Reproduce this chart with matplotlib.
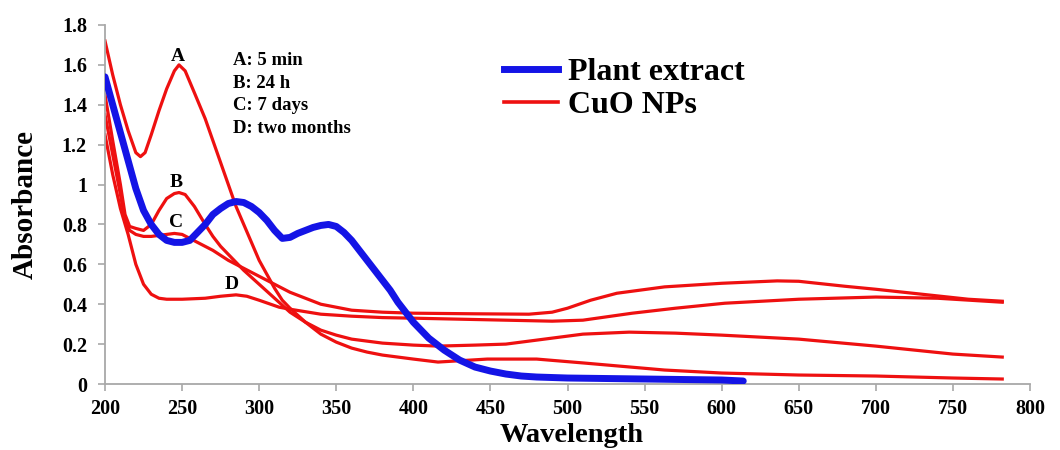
import matplotlib
matplotlib.use("Agg")
import matplotlib.pyplot as plt
from matplotlib.lines import Line2D

plt.rcParams["font.family"] = ["Liberation Serif", "DejaVu Serif"]
plt.rcParams["font.weight"] = "bold"

# UV-Vis absorbance of the plant extract
plant_wl = [200, 205, 210, 215, 220, 225, 230, 235, 240, 245, 250, 255, 260, 265,
            270, 275, 280, 285, 290, 295, 300, 305, 310, 315, 320, 325, 330, 335,
            340, 345, 350, 355, 360, 365, 370, 375, 380, 385, 390, 395, 400, 410,
            420, 430, 440, 450, 460, 470, 480, 500, 520, 550, 580, 600, 614]
plant_abs = [1.54, 1.40, 1.26, 1.12, 0.98, 0.87, 0.80, 0.75, 0.72, 0.71, 0.71, 0.72,
             0.76, 0.80, 0.85, 0.88, 0.905, 0.915, 0.91, 0.89, 0.86, 0.82, 0.77, 0.73,
             0.735, 0.755, 0.77, 0.785, 0.795, 0.80, 0.79, 0.76, 0.72, 0.67, 0.62,
             0.57, 0.52, 0.47, 0.41, 0.36, 0.31, 0.23, 0.17, 0.12, 0.085, 0.065,
             0.05, 0.04, 0.035, 0.03, 0.028, 0.025, 0.022, 0.02, 0.015]

# CuO NPs, A: 5 min
a_wl = [200, 205, 210, 215, 220, 223, 226, 230, 235, 240, 245, 248, 252, 258, 265,
        270, 275, 280, 285, 290, 295, 300, 305, 310, 315, 320, 330, 340, 350, 360,
        370, 380, 390, 400, 416, 448, 480, 511, 563, 600, 650, 700, 750, 782]
a_abs = [1.72, 1.55, 1.40, 1.27, 1.16, 1.14, 1.16, 1.25, 1.37, 1.48, 1.57, 1.60,
         1.57, 1.46, 1.33, 1.22, 1.11, 1.00, 0.89, 0.80, 0.71, 0.62, 0.55, 0.48,
         0.42, 0.38, 0.31, 0.25, 0.21, 0.18, 0.16, 0.145, 0.135, 0.125, 0.11,
         0.125, 0.125, 0.105, 0.07, 0.055, 0.045, 0.04, 0.03, 0.025]

# B: 24 h
b_wl = [200, 205, 210, 213, 216, 220, 225, 230, 235, 240, 245, 248, 252, 258, 265,
        270, 275, 280, 285, 290, 300, 310, 320, 330, 340, 350, 360, 380, 400, 416,
        440, 460, 480, 510, 540, 570, 600, 650, 700, 750, 782]
b_abs = [1.45, 1.22, 1.00, 0.85, 0.79, 0.78, 0.77, 0.80, 0.87, 0.93, 0.955, 0.96,
         0.95, 0.89, 0.80, 0.74, 0.69, 0.65, 0.61, 0.57, 0.50, 0.43, 0.36, 0.31,
         0.27, 0.245, 0.225, 0.205, 0.195, 0.19, 0.195, 0.20, 0.22, 0.25, 0.26,
         0.255, 0.245, 0.225, 0.19, 0.15, 0.135]

# C: 7 days
c_wl = [200, 205, 210, 213, 216, 220, 225, 230, 235, 240, 245, 250, 255, 260, 270,
        280, 290, 300, 310, 320, 330, 340, 350, 360, 380, 400, 440, 475, 490, 500,
        515, 532, 563, 600, 636, 650, 680, 700, 730, 760, 782]
c_abs = [1.35, 1.15, 0.95, 0.82, 0.77, 0.75, 0.74, 0.74, 0.745, 0.75, 0.755, 0.75,
         0.73, 0.71, 0.67, 0.62, 0.58, 0.54, 0.50, 0.46, 0.43, 0.40, 0.385, 0.37,
         0.36, 0.355, 0.352, 0.35, 0.36, 0.38, 0.42, 0.455, 0.487, 0.505, 0.517,
         0.515, 0.49, 0.475, 0.45, 0.425, 0.415]

# D: two months
d_wl = [200, 205, 210, 215, 220, 225, 230, 235, 240, 250, 265, 275, 285, 292, 300,
        313, 320, 340, 360, 380, 400, 430, 460, 490, 510, 542, 570, 602, 650, 700,
        740, 782]
d_abs = [1.25, 1.05, 0.88, 0.75, 0.60, 0.50, 0.45, 0.43, 0.425, 0.425, 0.43, 0.44,
         0.447, 0.44, 0.42, 0.385, 0.375, 0.35, 0.34, 0.333, 0.33, 0.325, 0.32,
         0.315, 0.32, 0.355, 0.38, 0.405, 0.425, 0.436, 0.43, 0.41]

curve_tags = ["A", "B", "C", "D"]
tag_pos = [(247, 1.64), (246, 1.01), (246, 0.81), (282, 0.50)]
time_notes = ["A: 5 min", "B: 24 h", "C: 7 days", "D: two months"]

x_ticks = [200, 250, 300, 350, 400, 450, 500, 550, 600, 650, 700, 750, 800]
y_ticks = [0, 0.2, 0.4, 0.6, 0.8, 1, 1.2, 1.4, 1.6, 1.8]
y_tick_labels = ["0", "0.2", "0.4", "0.6", "0.8", "1", "1.2", "1.4", "1.6", "1.8"]

RED = "#ee1010"
BLUE = "#1414e6"

fig = plt.figure(figsize=(10.6, 4.5), dpi=100)
ax = fig.add_axes([105 / 1060, 66 / 450, 925 / 1060, 359 / 450])

for wl, ab in [(a_wl, a_abs), (b_wl, b_abs), (c_wl, c_abs), (d_wl, d_abs)]:
    ax.plot(wl, ab, color=RED, lw=2.3, solid_joinstyle="round", zorder=2)
ax.plot(plant_wl, plant_abs, color=BLUE, lw=5.0, solid_capstyle="round",
        solid_joinstyle="round", zorder=3)

for tag, (tx, ty) in zip(curve_tags, tag_pos):
    ax.text(tx, ty, tag, fontsize=14, fontweight="bold", ha="center", va="center",
            zorder=4)

for i, note in enumerate(time_notes):
    ax.text(283, 1.62 - i * 0.113, note, fontsize=13.5, fontweight="bold",
            ha="left", va="center")

ax.set_xlim(200, 800)
ax.set_ylim(0, 1.8)
ax.set_xticks(x_ticks)
ax.set_yticks(y_ticks)
ax.set_yticklabels(y_tick_labels)

for side in ["top", "right"]:
    ax.spines[side].set_visible(False)
for side in ["left", "bottom"]:
    ax.spines[side].set_color("#a8a8a8")
    ax.spines[side].set_linewidth(1.3)
ax.tick_params(axis="both", colors="#a8a8a8", length=5, width=1.2,
               labelcolor="black", labelsize=14.5)
ax.tick_params(axis="x", pad=6)
ax.tick_params(axis="y", pad=8)
for lbl in ax.get_xticklabels() + ax.get_yticklabels():
    lbl.set_fontweight("bold")

ax.set_xlabel("Wavelength", fontsize=20.5, fontweight="bold")
ax.xaxis.set_label_coords((572 - 105) / 925, -(436 - 384) / 359)
ax.xaxis.label.set_va("center")
ax.set_ylabel("Absorbance", fontsize=21, fontweight="bold")
ax.yaxis.set_label_coords((25 - 105) / 925, 0.5)
ax.yaxis.label.set_va("center")

handles = [Line2D([], [], color=BLUE, lw=5.0),
           Line2D([], [], color=RED, lw=2.6)]
leg = ax.legend(handles, ["Plant extract", "CuO NPs"], loc="upper left",
                bbox_to_anchor=(504 / 1060, 1 - 58 / 450),
                bbox_transform=fig.transFigure, frameon=False,
                prop={"family": "Liberation Serif", "weight": "bold", "size": 23},
                handlelength=1.7, handletextpad=0.3, labelspacing=0.1,
                borderpad=0.0, borderaxespad=0.0)

fig.savefig("out.png", dpi=100, facecolor="white")
